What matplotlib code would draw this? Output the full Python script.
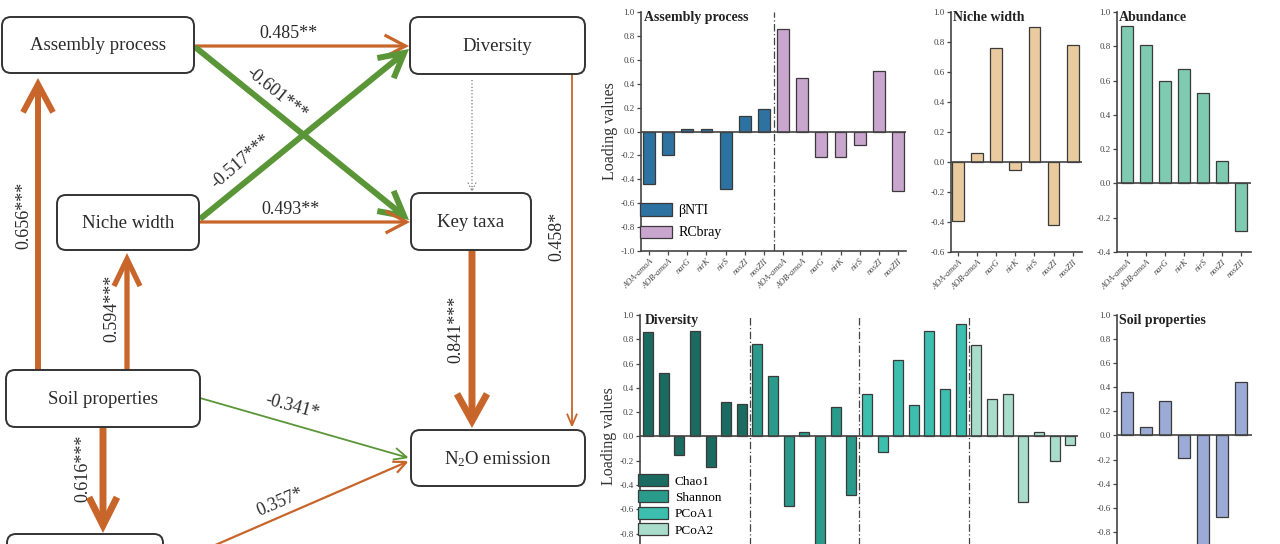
import matplotlib
matplotlib.use('Agg')
import matplotlib.pyplot as plt
from matplotlib.patches import FancyBboxPatch, FancyArrowPatch, Patch
import numpy as np

plt.rcParams['font.family'] = ['Liberation Serif', 'DejaVu Serif']
plt.rcParams['mathtext.fontset'] = 'custom'
plt.rcParams['mathtext.rm'] = 'Liberation Serif'
plt.rcParams['mathtext.it'] = 'Liberation Serif:italic'
plt.rcParams['axes.unicode_minus'] = False

# ---------------- data ----------------
genes = ['AOA-amoA', 'AOB-amoA', 'narG', 'nirK', 'nirS', 'nosZI', 'nosZII']

bnti = [-0.44, -0.20, 0.02, 0.02, -0.48, 0.13, 0.19]
rcbray = [0.86, 0.45, -0.21, -0.21, -0.11, 0.51, -0.50]
niche_width = [-0.39, 0.06, 0.76, -0.05, 0.90, -0.42, 0.78]
abundance = [0.92, 0.81, 0.60, 0.67, 0.53, 0.13, -0.28]
chao1 = [0.86, 0.52, -0.15, 0.87, -0.25, 0.28, 0.27]
shannon = [0.76, 0.50, -0.57, 0.04, -0.95, 0.24, -0.48]
pcoa1 = [0.35, -0.13, 0.63, 0.26, 0.87, 0.39, 0.93]
pcoa2 = [0.75, 0.31, 0.35, -0.54, 0.04, -0.20, -0.07]
soil_props = [0.36, 0.07, 0.29, -0.19, -0.95, -0.68, 0.44]

nodes = ['Assembly process', 'Diversity', 'Niche width', 'Key taxa',
         'Soil properties', r'N$_2$O emission', '']
path_labels = ['0.485**', '-0.601***', '-0.517***', '0.493**', '0.656***',
               '0.594***', '0.616***', '-0.341*', '0.357*', '0.841***', '0.458*']

W, H = 1280, 544
ORANGE = '#C8652A'
GREEN = '#5A9637'
EDGE = '#3a3a3a'
TXT = '#2a2a2a'

fig = plt.figure(figsize=(W / 100, H / 100), dpi=100)

# ---------------- path diagram ----------------
ax0 = fig.add_axes([0, 0, 600 / W, 1])
ax0.set_xlim(0, 600)
ax0.set_ylim(H, 0)
ax0.axis('off')

boxes = [(2, 17, 192, 56), (410, 17, 175, 57), (57, 195, 142, 55), (411, 193, 120, 57),
         (6, 370, 194, 57), (411, 430, 174, 56), (7, 534, 156, 40)]
for (x, y, w, h), name in zip(boxes, nodes):
    ax0.add_patch(FancyBboxPatch((x, y), w, h, boxstyle='round,pad=0,rounding_size=9',
                                 facecolor='white', edgecolor='#333333', lw=1.4, zorder=2))
    if name:
        ax0.text(x + w / 2, y + h / 2 + 1, name, ha='center', va='center', fontsize=13.5,
                 color=TXT, zorder=3)

PX = 1 / 1.389  # px -> pt


def arrow(p0, p1, color, lw, hl, hw, ls='-'):
    a = FancyArrowPatch(p0, p1, arrowstyle=f'->,head_length={hl * PX},head_width={hw * PX}',
                        mutation_scale=1, color=color, lw=lw, linestyle=ls,
                        shrinkA=0, shrinkB=0, zorder=1, joinstyle='miter', capstyle='butt')
    ax0.add_patch(a)


# arrows: (start, end, color, lw, head_len, head_halfwidth)
arrow((194, 46), (409, 46), ORANGE, 2.3, 21, 11)
arrow((195, 47), (409, 220), GREEN, 4.3, 24, 13)
arrow((200, 219), (409, 49), GREEN, 4.3, 24, 13)
arrow((199, 222), (410, 222), ORANGE, 2.3, 21, 11)
arrow((38, 370), (38, 78), ORANGE, 4.3, 28, 15)
arrow((127, 370), (127, 253), ORANGE, 3.8, 27, 13)
arrow((103, 427), (103, 533), ORANGE, 5.0, 28, 14)
arrow((200, 398), (409, 458), GREEN, 1.3, 13, 6)
arrow((190, 556), (409, 461), ORANGE, 1.6, 13, 6)
arrow((472, 250), (472, 428), ORANGE, 5.0, 27, 15)
arrow((572, 74), (572, 428), ORANGE, 1.3, 12, 5)
arrow((472, 80), (472, 192), '#777777', 0.9, 8, 4, ls=':')

label_pos = [(288, 33, 0), (277, 94, -39), (241, 162, 41), (290, 209, 0), (24, 215, 90),
             (112, 308, 90), (83, 468, 90), (292, 407, -15), (280, 502, 23), (456, 329, 90),
             (557, 236, 90)]
for lab, (x, y, r) in zip(path_labels, label_pos):
    ax0.text(x, y, lab, ha='center', va='center', rotation=r, fontsize=13, color=TXT,
             rotation_mode='anchor')


# ---------------- bar panels ----------------
def px_rect(x0, x1, ytop, ybot):
    return [x0 / W, 1 - ybot / H, (x1 - x0) / W, (ybot - ytop) / H]


def panel(rect, groups, colors, names, ylim, xlim, title, bw=0.62, ylabel=False,
          xlabels=True, leg_top=None, leg_space=0.35, leg_fs=10, vlines=(), hide_bottom_label=False):
    ax = fig.add_axes(rect)
    n = len(genes)
    handles = []
    for gi, (vals, c) in enumerate(zip(groups, colors)):
        x = np.arange(n) + gi * n
        ax.bar(x, vals, width=bw, color=c, edgecolor=EDGE, linewidth=0.9, zorder=3)
        handles.append(Patch(facecolor=c, edgecolor=EDGE, linewidth=0.9))
    ax.set_xlim(*xlim)
    ax.set_ylim(*ylim)
    ax.axhline(0, color='#444444', lw=1.2, zorder=4)
    for v in vlines:
        ax.axvline(v, color='#444444', lw=0.9, ls=(0, (6, 2, 1, 2)), zorder=2)
    ticks = np.round(np.arange(ylim[0], ylim[1] + 0.001, 0.2), 1) + 0.0
    ax.set_yticks(ticks)
    labels = ['%.1f' % (t if abs(t) > 1e-9 else 0.0) for t in ticks]
    if hide_bottom_label:
        labels[0] = ''
    ax.set_yticklabels(labels)
    tot = n * len(groups)
    ax.set_xticks(np.arange(tot))
    if xlabels:
        ax.set_xticklabels(genes * len(groups), rotation=45, ha='right', rotation_mode='anchor',
                           fontsize=6, style='italic', color='#333333')
    else:
        ax.set_xticklabels([])
    for s in ['top', 'right']:
        ax.spines[s].set_visible(False)
    for s in ['left', 'bottom']:
        ax.spines[s].set_color('#444444')
        ax.spines[s].set_linewidth(1.2)
    ax.tick_params(axis='y', labelsize=6.5, length=3, width=0.9, colors='#444444', pad=1.5)
    ax.tick_params(axis='x', length=3, width=0.9, colors='#444444', pad=1.5)
    ax.text(0.012, 1.005, title, transform=ax.transAxes, ha='left', va='top',
            fontsize=10, fontweight='bold', color='#222222')
    if ylabel:
        ax.set_ylabel('Loading values', fontsize=11.5, color='#333333', labelpad=2)
    if leg_top is not None:
        ax.legend(handles, names, loc='upper left', bbox_to_anchor=(-0.005, leg_top),
                  frameon=False, fontsize=leg_fs, handlelength=2.3, handleheight=1.0,
                  handletextpad=0.5, labelspacing=leg_space, borderaxespad=0, borderpad=0)
    return ax


panel(px_rect(641, 906, 12, 251), [bnti, rcbray], ['#2D72A0', '#C9A6CE'],
      ['βNTI', 'RCbray'], (-1.0, 1.0), (-0.42, 13.42), 'Assembly process',
      ylabel=True, leg_top=0.2, leg_space=0.6, vlines=(6.5,))
panel(px_rect(951, 1082, 12, 252), [niche_width], ['#EACBA0'], ['Niche width'],
      (-0.6, 1.0), (-0.37, 6.49), 'Niche width')
panel(px_rect(1117, 1251, 12, 252), [abundance], ['#7FCBB1'], ['Abundance'],
      (-0.4, 1.0), (-0.53, 6.53), 'Abundance')
panel(px_rect(640, 1078, 315, 558), [chao1, shannon, pcoa1, pcoa2],
      ['#1C6B60', '#2A9A8B', '#3CBFAE', '#A9DCCB'], ['Chao1', 'Shannon', 'PCoA1', 'PCoA2'],
      (-1.0, 1.0), (-0.51, 27.5), 'Diversity', bw=0.64, ylabel=True, xlabels=False,
      leg_top=0.345, leg_space=0.22, leg_fs=9.5, vlines=(6.5, 13.5, 20.5),
      hide_bottom_label=True)
panel(px_rect(1117, 1252, 315, 556), [soil_props], ['#9BABD5'], ['Soil properties'],
      (-1.0, 1.0), (-0.53, 6.6), 'Soil properties', xlabels=False, hide_bottom_label=True)

fig.savefig('out.png', dpi=100)
